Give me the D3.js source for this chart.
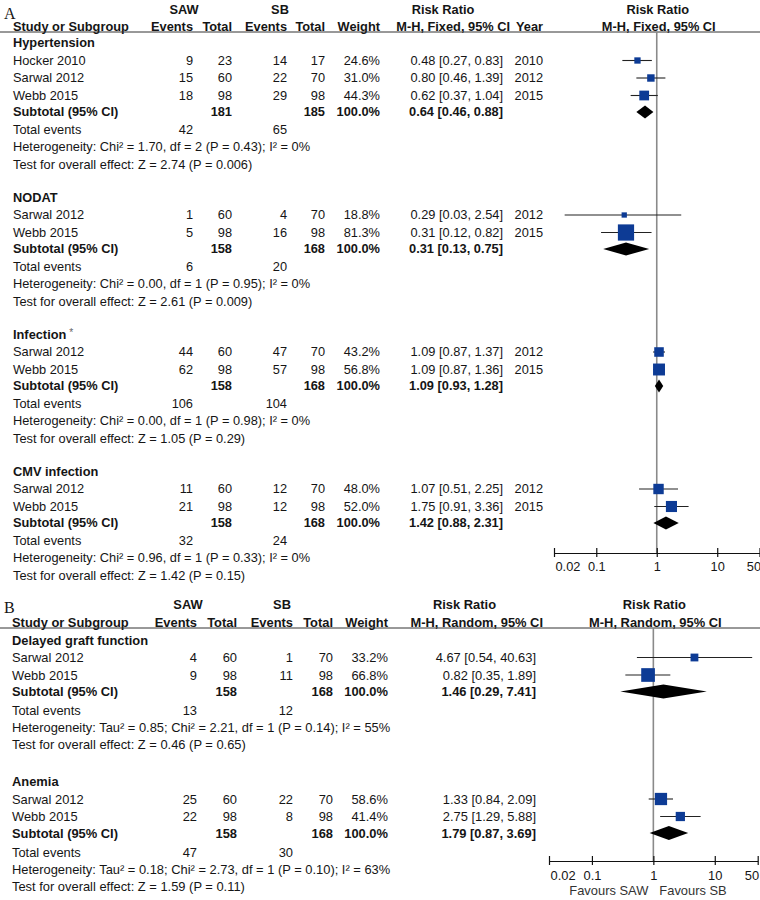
<!DOCTYPE html>
<html><head><meta charset="utf-8">
<script src="https://cdn.jsdelivr.net/npm/d3@7"></script>
<style>body{margin:0;background:#fff}svg{display:block}</style>
</head><body>
<svg id="chart" width="760" height="900"></svg>
<script>
// ---------------- DATA ----------------
const tickValues = [0.02, 0.1, 1, 10, 50];
const tickLabels = ["0.02", "0.1", "1", "10", "50"];

// Panel A subgroups (M-H, Fixed)
const groupNamesA = ["Hypertension", "NODAT", "Infection", "CMV infection"];
// study, sawEvents, sawTotal, sbEvents, sbTotal, weight, rr, lo, hi, year
const hypertensionStudies = [
  ["Hocker 2010", 9, 23, 14, 17, 24.6, 0.48, 0.27, 0.83, 2010],
  ["Sarwal 2012", 15, 60, 22, 70, 31.0, 0.80, 0.46, 1.39, 2012],
  ["Webb 2015", 18, 98, 29, 98, 44.3, 0.62, 0.37, 1.04, 2015]
];
const nodatStudies = [
  ["Sarwal 2012", 1, 60, 4, 70, 18.8, 0.29, 0.03, 2.54, 2012],
  ["Webb 2015", 5, 98, 16, 98, 81.3, 0.31, 0.12, 0.82, 2015]
];
const infectionStudies = [
  ["Sarwal 2012", 44, 60, 47, 70, 43.2, 1.09, 0.87, 1.37, 2012],
  ["Webb 2015", 62, 98, 57, 98, 56.8, 1.09, 0.87, 1.36, 2015]
];
const cmvStudies = [
  ["Sarwal 2012", 11, 60, 12, 70, 48.0, 1.07, 0.51, 2.25, 2012],
  ["Webb 2015", 21, 98, 12, 98, 52.0, 1.75, 0.91, 3.36, 2015]
];
// sawTotal, sbTotal, weight, rr, lo, hi, sawEvents, sbEvents
const subtotalsA = [
  [181, 185, 100.0, 0.64, 0.46, 0.88, 42, 65],
  [158, 168, 100.0, 0.31, 0.13, 0.75, 6, 20],
  [158, 168, 100.0, 1.09, 0.93, 1.28, 106, 104],
  [158, 168, 100.0, 1.42, 0.88, 2.31, 32, 24]
];
const heterogeneityA = [
  "Heterogeneity: Chi² = 1.70, df = 2 (P = 0.43); I² = 0%",
  "Heterogeneity: Chi² = 0.00, df = 1 (P = 0.95); I² = 0%",
  "Heterogeneity: Chi² = 0.00, df = 1 (P = 0.98); I² = 0%",
  "Heterogeneity: Chi² = 0.96, df = 1 (P = 0.33); I² = 0%"
];
const overallA = [
  "Test for overall effect: Z = 2.74 (P = 0.006)",
  "Test for overall effect: Z = 2.61 (P = 0.009)",
  "Test for overall effect: Z = 1.05 (P = 0.29)",
  "Test for overall effect: Z = 1.42 (P = 0.15)"
];

// Panel B subgroups (M-H, Random)
const groupNamesB = ["Delayed graft function", "Anemia"];
const delayedStudies = [
  ["Sarwal 2012", 4, 60, 1, 70, 33.2, 4.67, 0.54, 40.63, null],
  ["Webb 2015", 9, 98, 11, 98, 66.8, 0.82, 0.35, 1.89, null]
];
const anemiaStudies = [
  ["Sarwal 2012", 25, 60, 22, 70, 58.6, 1.33, 0.84, 2.09, null],
  ["Webb 2015", 22, 98, 8, 98, 41.4, 2.75, 1.29, 5.88, null]
];
const subtotalsB = [
  [158, 168, 100.0, 1.46, 0.29, 7.41, 13, 12],
  [158, 168, 100.0, 1.79, 0.87, 3.69, 47, 30]
];
const heterogeneityB = [
  "Heterogeneity: Tau² = 0.85; Chi² = 2.21, df = 1 (P = 0.14); I² = 55%",
  "Heterogeneity: Tau² = 0.18; Chi² = 2.73, df = 1 (P = 0.10); I² = 63%"
];
const overallB = [
  "Test for overall effect: Z = 0.46 (P = 0.65)",
  "Test for overall effect: Z = 1.59 (P = 0.11)"
];

// ---------------- DRAWING ----------------
const svg = d3.select("#chart");
const FONT = "'Liberation Sans', Arial, Helvetica, sans-serif";
const TXT = "#151515";
const BLUE = "#0d3b95";
const sizeScale = d3.scaleLinear().domain([0, 100]).range([2, 19.5]);
const fmtRR = v => v.toFixed(2);
const ciText = (r, lo, hi) => `${fmtRR(r)} [${fmtRR(lo)}, ${fmtRR(hi)}]`;

function txt(g, x, y, s, opt = {}) {
  return g.append("text")
    .attr("x", x).attr("y", y).attr("dy", "0.35em")
    .attr("font-family", opt.family || FONT)
    .attr("font-size", opt.size)
    .attr("font-weight", opt.bold ? "bold" : "normal")
    .attr("text-anchor", opt.anchor || "start")
    .attr("fill", opt.fill || TXT)
    .text(s);
}

function drawPanel(cfg) {
  const g = svg.append("g");
  const fs = cfg.fontSize;
  const x = d3.scaleLog().domain([0.02, 50]).range(cfg.plotRange);

  // Panel letter
  txt(g, 4, cfg.headY1 + 3, cfg.letter, {family: "'Liberation Serif', 'Times New Roman', serif", size: 16});
  // Header row 1
  txt(g, cfg.sawX, cfg.headY1, "SAW", {size: fs, bold: true, anchor: "middle"});
  txt(g, cfg.sbX, cfg.headY1, "SB", {size: fs, bold: true, anchor: "middle"});
  txt(g, cfg.rrHeadX, cfg.headY1, "Risk Ratio", {size: fs, bold: true, anchor: "middle"});
  txt(g, x(1) + 1, cfg.headY1, "Risk Ratio", {size: fs, bold: true, anchor: "middle"});
  // Header row 2
  txt(g, cfg.col.study, cfg.headY2, "Study or Subgroup", {size: fs, bold: true});
  txt(g, cfg.col.e1, cfg.headY2, "Events", {size: fs, bold: true, anchor: "end"});
  txt(g, cfg.col.n1, cfg.headY2, "Total", {size: fs, bold: true, anchor: "end"});
  txt(g, cfg.col.e2, cfg.headY2, "Events", {size: fs, bold: true, anchor: "end"});
  txt(g, cfg.col.n2, cfg.headY2, "Total", {size: fs, bold: true, anchor: "end"});
  txt(g, cfg.col.w, cfg.headY2, "Weight", {size: fs, bold: true, anchor: "end"});
  txt(g, cfg.mhEnd, cfg.headY2, cfg.method, {size: fs, bold: true, anchor: "end"});
  if (cfg.col.year) txt(g, cfg.col.year, cfg.headY2, "Year", {size: fs, bold: true, anchor: "end"});
  txt(g, x(1) + 2, cfg.headY2, cfg.method, {size: fs, bold: true, anchor: "middle"});

  g.append("line").attr("x1", 0).attr("x2", 760)
    .attr("y1", cfg.lineY).attr("y2", cfg.lineY)
    .attr("stroke", "#333").attr("stroke-width", 1);

  // Null line
  g.append("line").attr("x1", x(1)).attr("x2", x(1))
    .attr("y1", cfg.lineY).attr("y2", cfg.axisY)
    .attr("stroke", "#8a8a8a").attr("stroke-width", 1.6);

  let gy = cfg.firstGroupY;
  cfg.groups.forEach((name, gi) => {
    const t = txt(g, cfg.col.study, gy, name, {size: fs, bold: true});
    if (cfg.starred && cfg.starred.includes(name)) {
      t.append("tspan").attr("dy", "-0.25em").attr("dx", "3").attr("font-size", fs * 0.8)
        .attr("font-weight", "normal").attr("fill", "#666").text("*");
    }
    let y = gy + cfg.step;
    cfg.studies[gi].forEach((s, si) => {
      if (si > 0) y += cfg.step;
      const [name2, e1, n1, e2, n2, w, rr, lo, hi, yr] = s;
      txt(g, cfg.col.study, y, name2, {size: fs});
      txt(g, cfg.col.e1, y, e1, {size: fs, anchor: "end"});
      txt(g, cfg.col.n1, y, n1, {size: fs, anchor: "end"});
      txt(g, cfg.col.e2, y, e2, {size: fs, anchor: "end"});
      txt(g, cfg.col.n2, y, n2, {size: fs, anchor: "end"});
      txt(g, cfg.col.w, y, w.toFixed(1) + "%", {size: fs, anchor: "end"});
      txt(g, cfg.col.ci, y, ciText(rr, lo, hi), {size: fs, anchor: "end"});
      if (cfg.col.year && yr) txt(g, cfg.col.year, y, yr, {size: fs, anchor: "end"});
      // CI line
      g.append("line").attr("x1", x(lo)).attr("x2", x(hi)).attr("y1", y).attr("y2", y)
        .attr("stroke", "#222").attr("stroke-width", 1.1);
      const sz = sizeScale(w);
      g.append("rect").attr("x", x(rr) - sz / 2).attr("y", y - sz / 2)
        .attr("width", sz).attr("height", sz).attr("fill", BLUE);
    });
    // Subtotal
    const st = cfg.subtotals[gi];
    y += cfg.subGap;
    txt(g, cfg.col.study, y, "Subtotal (95% CI)", {size: fs, bold: true});
    txt(g, cfg.col.n1, y, st[0], {size: fs, bold: true, anchor: "end"});
    txt(g, cfg.col.n2, y, st[1], {size: fs, bold: true, anchor: "end"});
    txt(g, cfg.col.w, y, st[2].toFixed(1) + "%", {size: fs, bold: true, anchor: "end"});
    txt(g, cfg.col.ci, y, ciText(st[3], st[4], st[5]), {size: fs, bold: true, anchor: "end"});
    const dh = cfg.diamondH / 2;
    g.append("path")
      .attr("d", `M${x(st[4])},${y} L${x(st[3])},${y - dh} L${x(st[5])},${y} L${x(st[3])},${y + dh} Z`)
      .attr("fill", "#000");
    // Total events
    y += cfg.totGap;
    txt(g, cfg.col.study, y, "Total events", {size: fs});
    txt(g, cfg.col.e1, y, st[6], {size: fs, anchor: "end"});
    txt(g, cfg.col.e2, y, st[7], {size: fs, anchor: "end"});
    y += cfg.hetGap;
    txt(g, cfg.col.study, y, cfg.het[gi], {size: fs});
    y += cfg.testGap;
    txt(g, cfg.col.study, y, cfg.overall[gi], {size: fs});
    gy = y + cfg.groupGap;
  });

  // Axis
  const axis = d3.axisBottom(x).tickValues(tickValues)
    .tickFormat((d, i) => tickLabels[i]).tickSize(4).tickSizeOuter(0);
  const ag = g.append("g").attr("transform", `translate(0,${cfg.axisY})`).call(axis);
  ag.select(".domain").attr("stroke", "#111").attr("stroke-width", 1.2);
  ag.selectAll(".tick line").attr("y1", -5).attr("y2", 4).attr("stroke", "#111").attr("stroke-width", 1.2);
  ag.selectAll(".tick text")
    .attr("font-family", FONT).attr("font-size", fs).attr("fill", TXT)
    .attr("y", 14).attr("dy", "0.35em")
    .attr("text-anchor", (d, i) => i === 0 ? "start" : (i === tickValues.length - 1 ? "end" : "middle"));
  ag.selectAll(".tick text").filter((d, i) => i === 0).attr("x", 1);
  ag.selectAll(".tick text").filter((d, i) => i === tickValues.length - 1).attr("x", 1);
  if (cfg.favours) {
    txt(g, x(1) - 5, cfg.axisY + 29, "Favours SAW", {size: fs, anchor: "end", fill: "#333"});
    txt(g, x(1) + 6, cfg.axisY + 29, "Favours SB", {size: fs, anchor: "start", fill: "#333"});
  }
}

drawPanel({
  letter: "A", fontSize: 12.8, method: "M-H, Fixed, 95% CI",
  plotRange: [554, 759.5],
  col: {study: 13, e1: 193, n1: 232, e2: 287, n2: 325, w: 380, ci: 503, year: 543},
  sawX: 184, sbX: 280, rrHeadX: 443, mhEnd: 510,
  headY1: 10, headY2: 27, lineY: 32, firstGroupY: 43, axisY: 553,
  step: 17.5, subGap: 16.5, totGap: 18, hetGap: 17, testGap: 17.5, groupGap: 33, diamondH: 13,
  groups: groupNamesA, starred: ["Infection"],
  studies: [hypertensionStudies, nodatStudies, infectionStudies, cmvStudies],
  subtotals: subtotalsA, het: heterogeneityA, overall: overallA, favours: false
});

drawPanel({
  letter: "B", fontSize: 12.9, method: "M-H, Random, 95% CI",
  plotRange: [549, 757.7],
  col: {study: 12, e1: 197, n1: 237, e2: 293, n2: 333, w: 388, ci: 536},
  sawX: 188, sbX: 282, rrHeadX: 464.5, mhEnd: 543,
  headY1: 604, headY2: 622, lineY: 628, firstGroupY: 640, axisY: 861,
  step: 17.5, subGap: 16.5, totGap: 19, hetGap: 17, testGap: 17, groupGap: 37, diamondH: 14,
  groups: groupNamesB, starred: [],
  studies: [delayedStudies, anemiaStudies],
  subtotals: subtotalsB, het: heterogeneityB, overall: overallB, favours: true
});
</script>
</body></html>
